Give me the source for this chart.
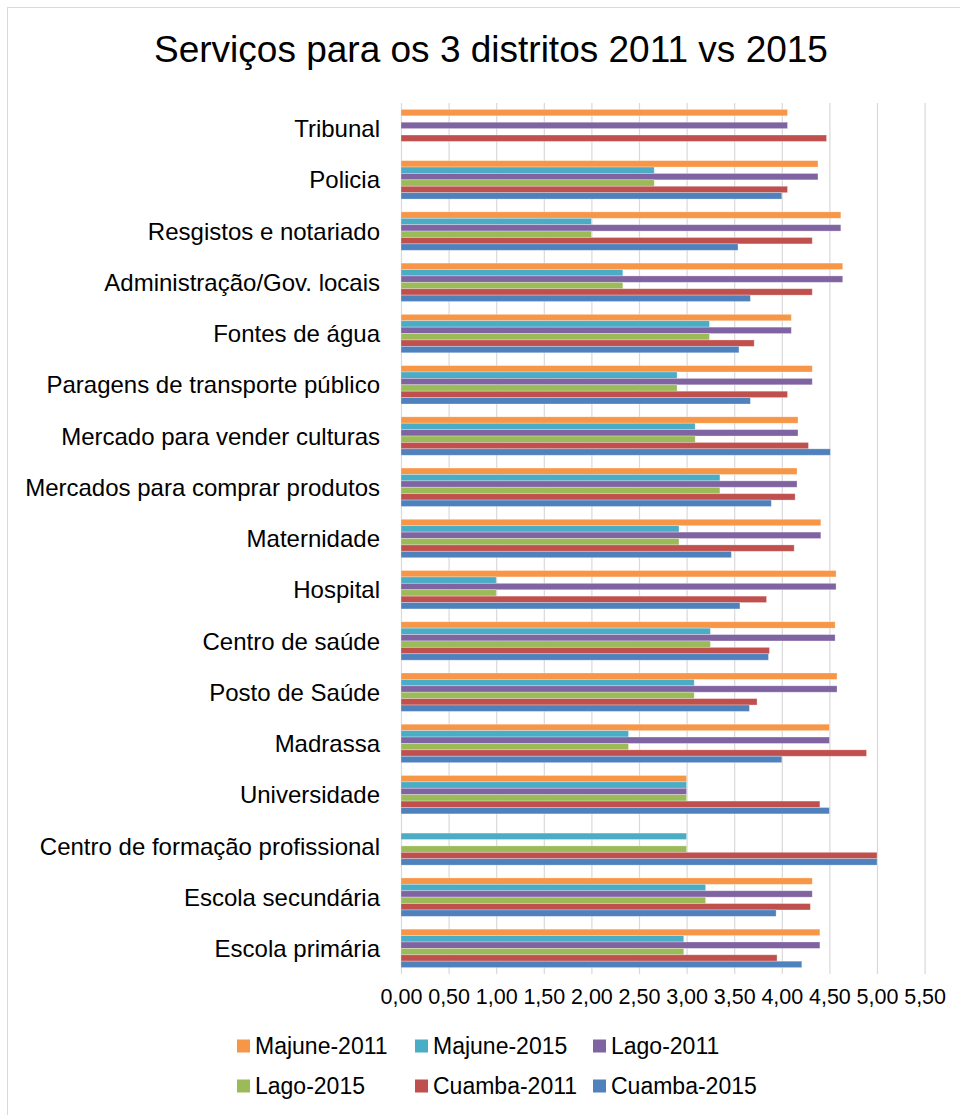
<!DOCTYPE html>
<html>
<head>
<meta charset="utf-8">
<script src="https://cdn.jsdelivr.net/npm/d3@7"></script>
<style>
  body { margin: 0; background: #fff; }
  text { font-family: 'Liberation Sans', Arial, sans-serif; fill: #000; }
</style>
</head>
<body>
<div id="chart"></div>
<script>
const title = 'Serviços para os 3 distritos 2011 vs 2015'

const categories = [
  'Tribunal',
  'Policia',
  'Resgistos e notariado',
  'Administração/Gov. locais',
  'Fontes de água',
  'Paragens de transporte público',
  'Mercado para vender culturas',
  'Mercados para comprar produtos',
  'Maternidade',
  'Hospital',
  'Centro de saúde',
  'Posto de Saúde',
  'Madrassa',
  'Universidade',
  'Centro de formação profissional',
  'Escola secundária',
  'Escola primária'
]

const seriesNames = ['Majune-2011', 'Majune-2015', 'Lago-2011', 'Lago-2015', 'Cuamba-2011', 'Cuamba-2015']
const seriesColors = ['#F79646', '#4BACC6', '#8064A2', '#9BBB59', '#C0504D', '#4F81BD']

// one value per category, same order as categories
const majune2011 = [4.06, 4.38, 4.62, 4.64, 4.10, 4.32, 4.17, 4.16, 4.41, 4.57, 4.56, 4.58, 4.50, 3.00, null, 4.32, 4.40]
const majune2015 = [null, 2.66, 2.00, 2.33, 3.24, 2.90, 3.09, 3.35, 2.92, 1.00, 3.25, 3.08, 2.39, 3.00, 3.00, 3.20, 2.97]
const lago2011 = [4.06, 4.38, 4.62, 4.64, 4.10, 4.32, 4.17, 4.16, 4.41, 4.57, 4.56, 4.58, 4.50, 3.00, null, 4.32, 4.40]
const lago2015 = [null, 2.66, 2.00, 2.33, 3.24, 2.90, 3.09, 3.35, 2.92, 1.00, 3.25, 3.08, 2.39, 3.00, 3.00, 3.20, 2.97]
const cuamba2011 = [4.47, 4.06, 4.32, 4.32, 3.71, 4.06, 4.28, 4.14, 4.13, 3.84, 3.87, 3.74, 4.89, 4.40, 5.00, 4.30, 3.95]
const cuamba2015 = [null, 4.00, 3.54, 3.67, 3.55, 3.67, 4.51, 3.89, 3.47, 3.56, 3.86, 3.66, 4.00, 4.50, 5.00, 3.94, 4.21]

const tickValues = [0, 0.5, 1, 1.5, 2, 2.5, 3, 3.5, 4, 4.5, 5, 5.5]

const seriesValues = [majune2011, majune2015, lago2011, lago2015, cuamba2011, cuamba2015]

const width = 960,
  height = 1115,
  plot = { left: 401, right: 924.6, top: 103, bottom: 974 }

const locale = d3.formatLocale({ decimal: ',', thousands: '.', grouping: [3], currency: ['', ''] })

const xScale = d3
  .scaleLinear()
  .domain([0, 5.5])
  .range([plot.left, plot.right])

const yScale = d3
  .scaleBand()
  .domain(categories)
  .range([plot.top, plot.bottom])
  .paddingInner(0.25)
  .paddingOuter(0.125)

const ySeries = d3
  .scaleBand()
  .domain(seriesNames)
  .range([0, yScale.bandwidth()])

const svg = d3
  .select('#chart')
  .append('svg')
  .attr('width', width)
  .attr('height', height)

// chart border
svg
  .append('rect')
  .attr('x', 7.5)
  .attr('y', 7.5)
  .attr('width', 1000)
  .attr('height', 1200)
  .attr('fill', 'none')
  .attr('stroke', '#d9d9d9')
  .attr('stroke-width', 1)

svg
  .append('text')
  .attr('x', 491)
  .attr('y', 62)
  .attr('text-anchor', 'middle')
  .style('font-size', '37px')
  .text(title)

// gridlines
svg
  .append('g')
  .attr('class', 'grid')
  .attr('transform', 'translate(0,' + plot.bottom + ')')
  .call(
    d3
      .axisBottom(xScale)
      .tickValues(tickValues)
      .tickSize(-(plot.bottom - plot.top))
      .tickFormat('')
  )
  .call(g => g.select('.domain').remove())
  .call(g => g.selectAll('line').attr('stroke', '#d9d9d9').attr('stroke-width', 1.2))

// x tick labels
svg
  .append('g')
  .attr('transform', 'translate(0,' + plot.bottom + ')')
  .call(
    d3
      .axisBottom(xScale)
      .tickValues(tickValues)
      .tickSize(0)
      .tickPadding(15)
      .tickFormat(locale.format('.2f'))
  )
  .call(g => g.select('.domain').remove())
  .call(g => g.selectAll('text').style('font-size', '21.5px').attr('fill', '#000').attr('font-family', null))

// category labels
svg
  .append('g')
  .selectAll('text')
  .data(categories)
  .enter()
  .append('text')
  .attr('x', 380)
  .attr('y', d => yScale(d) + yScale.bandwidth() / 2)
  .attr('dy', '0.36em')
  .attr('text-anchor', 'end')
  .style('font-size', '24px')
  .text(d => d)

// bars
seriesNames.forEach((name, i) => {
  svg
    .append('g')
    .selectAll('rect')
    .data(categories.map((c, j) => ({ category: c, value: seriesValues[i][j] })).filter(d => d.value != null))
    .enter()
    .append('rect')
    .attr('x', xScale(0))
    .attr('y', d => yScale(d.category) + ySeries(name))
    .attr('width', d => xScale(d.value) - xScale(0))
    .attr('height', ySeries.bandwidth())
    .attr('fill', seriesColors[i])
    .attr('stroke', '#fff')
    .attr('stroke-opacity', 0.35)
    .attr('stroke-width', 0.8)
})

// legend
const legend = svg
  .append('g')
  .selectAll('g')
  .data(seriesNames)
  .enter()
  .append('g')
  .attr('transform', (d, i) => 'translate(' + (237 + (i % 3) * 178) + ',' + (1046 + Math.floor(i / 3) * 40) + ')')

legend
  .append('rect')
  .attr('x', 0)
  .attr('y', -6.5)
  .attr('width', 13)
  .attr('height', 13)
  .attr('fill', (d, i) => seriesColors[i])

legend
  .append('text')
  .attr('x', 18)
  .attr('y', 0)
  .attr('dy', '0.36em')
  .style('font-size', '23px')
  .text(d => d)
</script>
</body>
</html>
